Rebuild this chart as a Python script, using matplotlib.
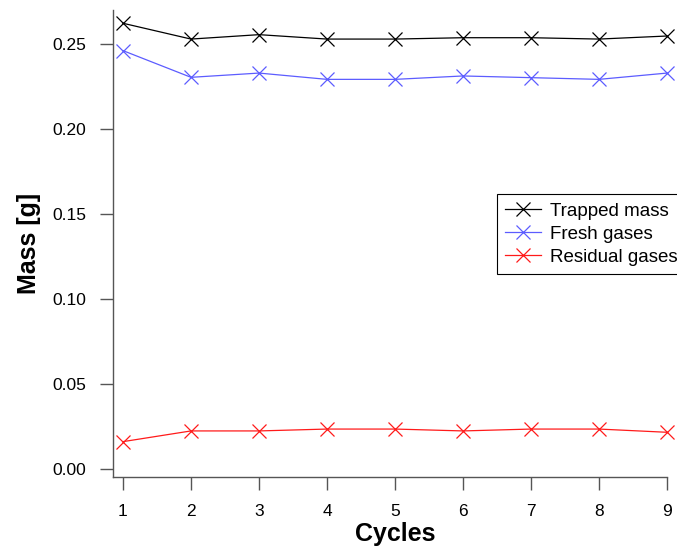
#!/usr/bin/env python3

import matplotlib
matplotlib.use('Agg')
import matplotlib.pyplot as plt

cycles = [1, 2, 3, 4, 5, 6, 7, 8, 9]
trapped = [0.2622, 0.2529, 0.2555, 0.2529, 0.2529, 0.2537, 0.2537, 0.2529, 0.2547]
fresh = [0.2461, 0.2304, 0.2329, 0.2292, 0.2292, 0.2312, 0.2302, 0.2292, 0.2329]
residual = [0.0161, 0.0224, 0.0224, 0.0235, 0.0235, 0.0224, 0.0235, 0.0235, 0.0216]
yticks = [0.00, 0.05, 0.10, 0.15, 0.20, 0.25]
ytick_labels = ['0.00', '0.05', '0.10', '0.15', '0.20', '0.25']

plt.rcParams['font.family'] = ['Liberation Sans', 'DejaVu Sans']

W, H = 677, 549
fig = plt.figure(figsize=(W / 100, H / 100), dpi=100)
# axes box in pixels: left 113, right 677, top 10, bottom 477
ax = fig.add_axes([113 / W, 1 - 477 / H, (677 - 113) / W, (477 - 10) / H])

kw = dict(marker='x', markersize=9.5, markeredgewidth=0.9, linewidth=0.9)
ax.plot(cycles, trapped, color='black', label='Trapped mass', **kw)
ax.plot(cycles, fresh, color='#5c5cff', label='Fresh gases', **kw)
ax.plot(cycles, residual, color='#ff1a1a', label='Residual gases', **kw)

ax.set_xlim(0.853, 9.147)
ax.set_ylim(-0.0047, 0.27)

for s in ['top', 'right']:
    ax.spines[s].set_visible(False)
for s in ['left', 'bottom']:
    ax.spines[s].set_color('#555555')
    ax.spines[s].set_linewidth(1.0)
ax.spines['bottom'].set_bounds(0.853, 9)

ax.set_xticks(cycles)
ax.set_yticks(yticks)
ax.set_yticklabels(ytick_labels)
ax.tick_params(axis='both', direction='out', length=9.4, width=1.0,
               color='#555555', labelsize=12.5, labelcolor='black')
ax.tick_params(axis='x', pad=10)
ax.tick_params(axis='y', pad=10)

ax.set_xlabel('Cycles', fontsize=18, fontweight='bold', labelpad=2)
ax.set_ylabel('Mass [g]', fontsize=18, fontweight='bold', labelpad=8)

ax.legend(loc='upper left', bbox_to_anchor=(497 / W, 1 - 194 / H),
          bbox_transform=fig.transFigure, fontsize=13.5, frameon=True,
          fancybox=False, framealpha=1, edgecolor='black',
          handlelength=1.9, handletextpad=0.5, borderpad=0.45,
          labelspacing=0.32, borderaxespad=0)
leg = ax.get_legend()
leg.get_frame().set_linewidth(0.8)

plt.savefig('out.png', dpi=100)
